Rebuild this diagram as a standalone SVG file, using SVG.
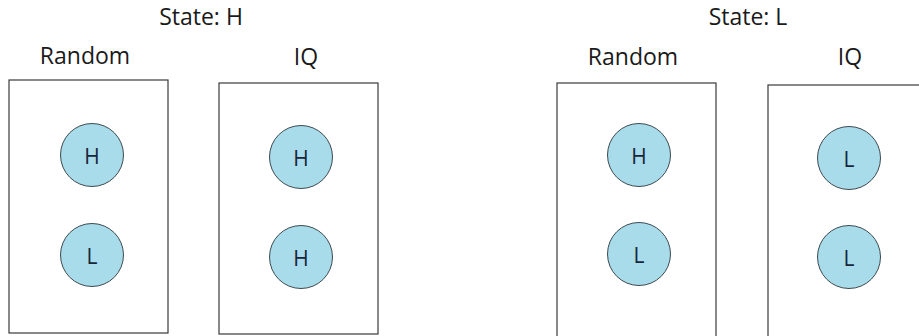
<svg xmlns="http://www.w3.org/2000/svg" width="919" height="336" viewBox="0 0 919 336">
  <style>
    .title { font-family: "Open Sans", "Noto Sans", sans-serif; font-size: 23px; fill: #1a1a1a; text-anchor: middle; }
    .panel { fill: #ffffff; stroke: #3a3a3a; stroke-width: 1.2; }
    .token circle { fill: #a8dcea; stroke: #3c4a50; stroke-width: 1; }
    .token text { font-family: "Open Sans", "Noto Sans", sans-serif; font-size: 21px; fill: #17263a; text-anchor: middle; dominant-baseline: central; }
  </style>
  <rect width="919" height="336" fill="#ffffff"/>

  <!-- State H -->
  <g id="state-h">
    <text class="title" x="201" y="25">State: H</text>
    <g id="h-random">
      <text class="title" x="85" y="64">Random</text>
      <rect class="panel" x="9" y="80" width="159" height="253"/>
      <g class="token" id="h-random-1"><circle cx="92" cy="155" r="31.5"/><text x="92" y="156">H</text></g>
      <g class="token" id="h-random-2"><circle cx="92" cy="255" r="31.5"/><text x="92" y="256">L</text></g>
    </g>
    <g id="h-iq">
      <text class="title" x="306" y="65">IQ</text>
      <rect class="panel" x="219" y="83" width="159" height="251"/>
      <g class="token" id="h-iq-1"><circle cx="301" cy="157" r="31.5"/><text x="301" y="158">H</text></g>
      <g class="token" id="h-iq-2"><circle cx="301" cy="257" r="31.5"/><text x="301" y="258">H</text></g>
    </g>
  </g>

  <!-- State L -->
  <g id="state-l">
    <text class="title" x="748" y="25">State: L</text>
    <g id="l-random">
      <text class="title" x="633" y="65">Random</text>
      <rect class="panel" x="557" y="83" width="159" height="256"/>
      <g class="token" id="l-random-1"><circle cx="639" cy="155" r="31.5"/><text x="639" y="156">H</text></g>
      <g class="token" id="l-random-2"><circle cx="639" cy="254" r="31.5"/><text x="639" y="255">L</text></g>
    </g>
    <g id="l-iq">
      <text class="title" x="850" y="65">IQ</text>
      <rect class="panel" x="768" y="85" width="160" height="256"/>
      <g class="token" id="l-iq-1"><circle cx="849" cy="158" r="31.5"/><text x="849" y="159">L</text></g>
      <g class="token" id="l-iq-2"><circle cx="849" cy="257" r="31.5"/><text x="849" y="258">L</text></g>
    </g>
  </g>
</svg>
